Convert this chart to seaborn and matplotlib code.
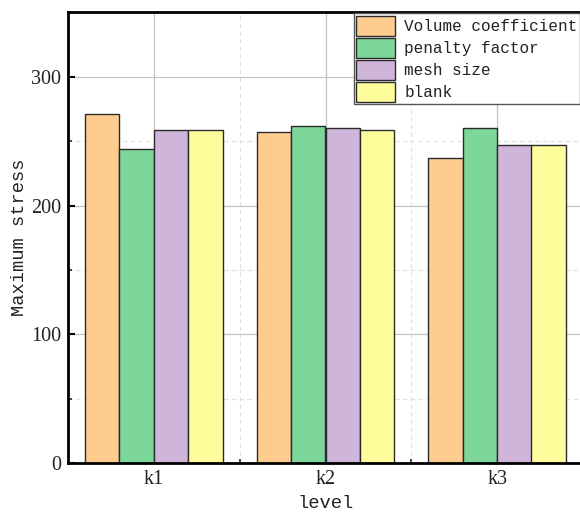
import matplotlib
matplotlib.use("Agg")
import matplotlib.pyplot as plt
from matplotlib.ticker import MultipleLocator, FixedLocator
import seaborn as sns
import pandas as pd

levels = ["k1", "k2", "k3"]
factors = ["Volume coefficient", "penalty factor", "mesh size", "blank"]
volume_coefficient = [271, 257, 237]
penalty_factor = [244, 262, 260]
mesh_size = [259, 260, 247]
blank = [259, 259, 247]
colors = ["#FFCC8F", "#7ED79A", "#CFB5D9", "#FFFD9B"]

series = [volume_coefficient, penalty_factor, mesh_size, blank]
rows = []
for f, vals in zip(factors, series):
    for lv, v in zip(levels, vals):
        rows.append({"level": lv, "stress": v, "factor": f})
df = pd.DataFrame(rows)

sns.set_theme(style="white")
plt.rcParams["font.family"] = ["Liberation Serif", "DejaVu Serif"]

fig = plt.figure(figsize=(5.8, 5.2), dpi=100)
ax = fig.add_axes([68/580, 57/520, 515/580, 450.5/520])

sns.barplot(data=df, x="level", y="stress", hue="factor", hue_order=factors,
            palette=colors, saturation=1, edgecolor="#2a2a2a", linewidth=1.0,
            width=0.8, ax=ax, errorbar=None)

ax.set_xlim(-0.5, 2.5)
ax.set_ylim(0, 350)
ax.yaxis.set_major_locator(MultipleLocator(100))
ax.yaxis.set_minor_locator(MultipleLocator(50))
ax.xaxis.set_minor_locator(FixedLocator([0.5, 1.5]))

ax.set_axisbelow(True)
ax.grid(which="major", color="#c4c4c4", linewidth=0.9, linestyle="-")
ax.grid(which="minor", color="#e0e0e0", linewidth=0.8, linestyle=(0, (4, 3)))

ax.tick_params(which="major", direction="in", length=5, width=1.5, colors="black",
               labelsize=14.5, left=True, bottom=True, pad=5)
ax.tick_params(which="minor", direction="in", length=3, width=1.2, left=True, bottom=True)
ax.tick_params(axis="y", labelcolor="#222222")
ax.tick_params(axis="x", labelcolor="#222222")

for s in ["left", "bottom", "top"]:
    ax.spines[s].set_visible(True)
    ax.spines[s].set_color("black")
    ax.spines[s].set_linewidth(2)
ax.spines["right"].set_visible(False)

ax.set_xlabel("level", fontsize=13.5, family="Liberation Mono", color="#222222", labelpad=4)
ax.set_ylabel("Maximum stress", fontsize=13.5, family="Liberation Mono", color="#222222", labelpad=2)

handles, labels = ax.get_legend_handles_labels()
leg = ax.legend(handles, labels, loc="upper left", bbox_to_anchor=(0.555, 0.998),
                prop={"family": "Liberation Mono", "size": 11.5},
                frameon=True, fancybox=False, edgecolor="#555555", framealpha=1,
                handlelength=2.4, handleheight=1.55, labelspacing=0.12,
                handletextpad=0.6, borderpad=0.15, borderaxespad=0)
leg.get_frame().set_linewidth(1.0)
for t in leg.get_texts():
    t.set_color("#222222")

fig.savefig("out.png", dpi=100)
